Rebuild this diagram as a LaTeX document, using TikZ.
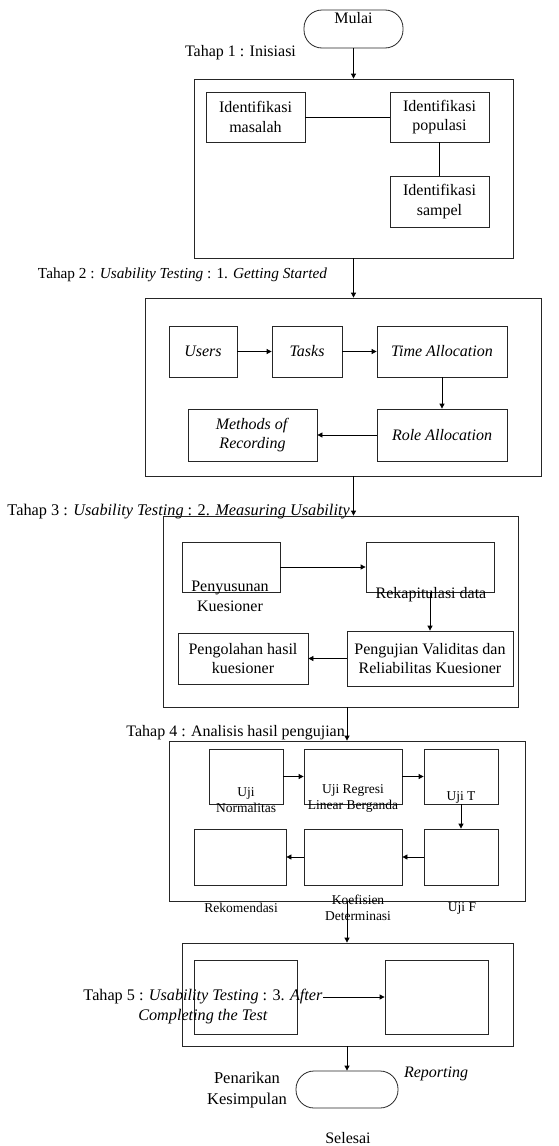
\documentclass[tikz,border=0pt]{standalone}
\usepackage{fontspec}
\setmainfont{Liberation Serif}
\usetikzlibrary{arrows.meta}
\tikzset{
  box/.style={draw=black!85, line width=0.8pt, minimum width=#1, inner sep=0pt, align=center, font=\fontsize{16}{19.5}\selectfont},
  frame/.style={draw=black!85, line width=0.8pt, inner sep=0pt},
  term/.style={draw=black!85, line width=0.8pt, rounded corners=18pt, inner sep=0pt},
  lbl/.style={inner sep=0pt, align=center, font=\fontsize{16}{19.5}\selectfont},
  slbl/.style={inner sep=0pt, align=center, font=\fontsize{13.5}{16}\selectfont},
  arr/.style={line width=0.8pt, -{Triangle[length=5pt,width=5pt]}},
  ln/.style={line width=0.8pt}
}
\begin{document}
\begin{tikzpicture}[x=1pt,y=-1pt]
\useasboundingbox (0,0) rectangle (558,1146);
% start
\node[term, minimum width=99pt, minimum height=38pt] (mulai) at (353.5,29) {};
\node[lbl] (tmulai) at (353.5,18) {Mulai};
\node[lbl] (t1) at (240.5,53) {Tahap 1 : Inisiasi};
% stage 1
\node[frame, minimum width=319pt, minimum height=179pt] (b1) at (353.5,168.5) {};
\node[box=99pt, minimum height=50pt] (masalah) at (255.5,117) {Identifikasi\\masalah};
\node[box=99pt, minimum height=50pt] (populasi) at (439.5,117) {Identifikasi\\populasi};
\node[box=99pt, minimum height=51pt] (sampel) at (439.5,201.5) {Identifikasi\\sampel};
\draw[ln] (masalah.east) -- (populasi.west);
\draw[ln] (populasi.south) -- (sampel.north);
\draw[arr] (mulai.south) -- (b1.north);
% stage 2
\node[lbl, font=\fontsize{15.3}{19}\selectfont] (t2) at (182.5,275) {Tahap 2 : \textit{Usability Testing} : 1. \textit{Getting Started}};
\node[frame, minimum width=396pt, minimum height=178pt] (b2) at (343,387) {};
\node[box=68pt, minimum height=51pt] (users) at (203,351.5) {\textit{Users}};
\node[box=70pt, minimum height=51pt] (tasks) at (307,351.5) {\textit{Tasks}};
\node[box=130pt, minimum height=51pt] (time) at (442,351.5) {\textit{Time Allocation}};
\node[box=130pt, minimum height=52pt] (role) at (442,435) {\textit{Role Allocation}};
\node[box=129pt, minimum height=52pt] (methods) at (252.5,435) {\textit{Methods of}\\\textit{Recording}};
\draw[arr] (users.east) -- (tasks.west);
\draw[arr] (tasks.east) -- (time.west);
\draw[arr] (time.south) -- (role.north);
\draw[arr] (role.west) -- (methods.east);
\draw[arr] (b1.south) -- (b1.south |- b2.north);
% stage 3
\node[lbl, anchor=east, font=\fontsize{16.3}{19.5}\selectfont] (t3) at (350,512) {Tahap 3 : \textit{Usability Testing} : 2. \textit{Measuring Usability}};
\node[frame, minimum width=355pt, minimum height=191pt] (b3) at (340.5,611.5) {};
\draw[arr] (b2.south -| b1.south) -- (b1.south |- b3.north);
\node[box=98pt, minimum height=50pt] (peny) at (231,567) {};
\node[lbl] (tpeny) at (230,596.5) {Penyusunan\\Kuesioner};
\node[box=128pt, minimum height=50pt] (rekap) at (430,567) {};
\node[lbl] (trekap) at (431,595) {Rekapitulasi data};
\node[box=166pt, minimum height=55pt] (uji) at (430,658.5) {Pengujian Validitas dan\\Reliabilitas Kuesioner};
\node[box=130pt, minimum height=51pt] (olah) at (243,658.5) {Pengolahan hasil\\kuesioner};
\draw[arr] (peny.east) -- (rekap.west);
\draw[arr] (rekap.south) -- (rekap.south |- uji.north);
\draw[arr] (uji.west) -- (olah.east);
% stage 4
\node[lbl, anchor=east] (t4) at (345,733) {Tahap 4 : Analisis hasil pengujian};
\node[frame, minimum width=356pt, minimum height=160pt] (b4) at (347,821) {};
\draw[arr] (b3.south -| b4.north) -- (b4.north);
\node[box=74pt, minimum height=55pt] (norm) at (246,776.5) {};
\node[box=98pt, minimum height=55pt] (regr) at (353,776.5) {};
\node[box=74pt, minimum height=55pt] (ujit) at (461,776.5) {};
\node[box=92pt, minimum height=56pt] (rekom) at (240,857) {};
\node[box=98pt, minimum height=56pt] (koef) at (353,857) {};
\node[box=74pt, minimum height=56pt] (ujif) at (461,857) {};
\node[slbl] (tnorm) at (246,800) {Uji\\Normalitas};
\node[slbl] (tregr) at (353,798) {Uji Regresi\\Linear Berganda};
\node[slbl] (tujit) at (461,797) {Uji T};
\node[slbl] (trekom) at (241,908) {Rekomendasi};
\node[slbl] (tkoef) at (358,907.5) {Koefisien\\Determinasi};
\node[slbl] (tujif) at (462,908) {Uji F};
\draw[arr] (norm.east) -- (regr.west);
\draw[arr] (regr.east) -- (ujit.west);
\draw[arr] (ujit.south) -- (ujif.north);
\draw[arr] (ujif.west) -- (koef.east);
\draw[arr] (koef.west) -- (rekom.east);
% stage 5
\node[frame, minimum width=331pt, minimum height=103pt] (b5) at (347.5,994.5) {};
\draw[arr] (b4.south) -- (b4.south |- b5.north);
\node[box=103pt, minimum height=74pt] (in1) at (245.5,997) {};
\node[box=103pt, minimum height=74pt] (in2) at (436.5,997) {};
\node[lbl, font=\fontsize{16.2}{20}\selectfont] (t5) at (203,1007) {Tahap 5 : \textit{Usability Testing} : 3. \textit{After}\\\textit{Completing the Test}};
\coordinate (c5) at (323,997);
\draw[arr] (c5) -- (in2.west);
\node[term, minimum width=102pt, minimum height=37pt] (selesai) at (347,1089.5) {};
\draw[arr] (b5.south -| selesai.north) -- (selesai.north);
\node[lbl] (tselesai) at (348,1138) {Selesai};
\node[lbl] (treport) at (436,1074) {\textit{Reporting}};
\node[lbl, font=\fontsize{16.5}{21}\selectfont] (tpenarikan) at (247,1090) {Penarikan\\Kesimpulan};
\end{tikzpicture}
\end{document}
